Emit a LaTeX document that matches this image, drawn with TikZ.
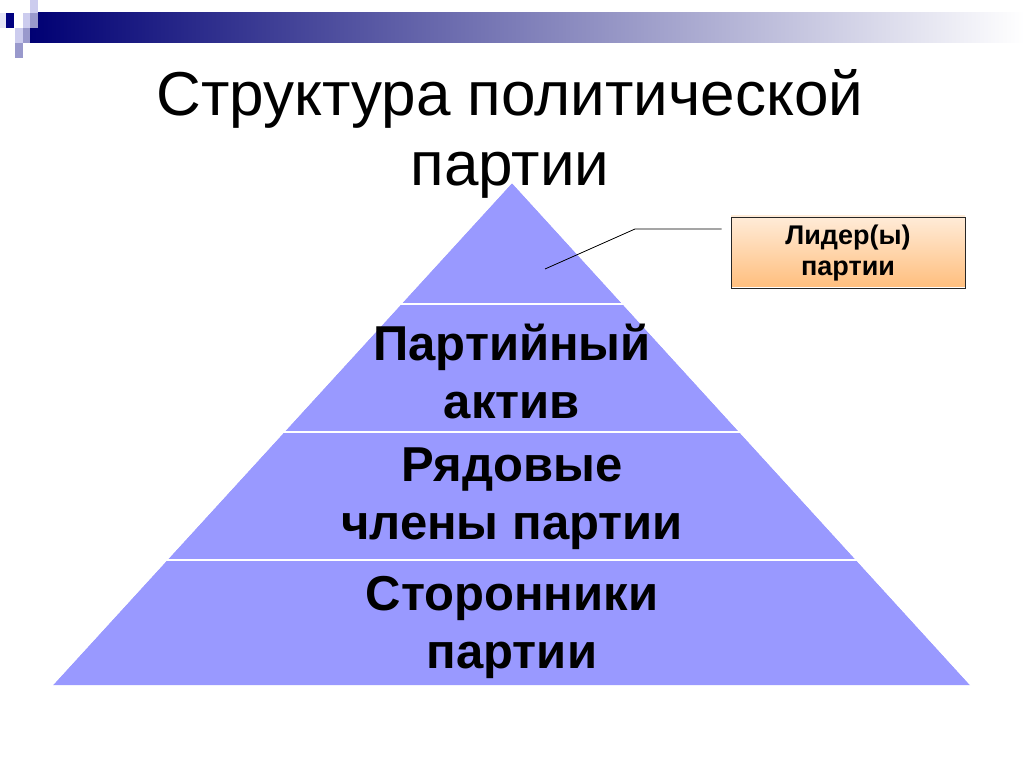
\documentclass[tikz,border=0pt]{standalone}
\usepackage{fontspec}
\setmainfont{Liberation Sans}
\begin{document}
\begin{tikzpicture}[x=1pt,y=-1pt,
  bt/.style={font=\fontsize{49}{58}\selectfont\bfseries,align=center,inner sep=0},
  tt/.style={font=\fontsize{62}{70}\selectfont,inner sep=0}]
\definecolor{pyr}{HTML}{9999FF}
\definecolor{navy}{HTML}{000080}
\definecolor{lt}{HTML}{CCCCEE}
\definecolor{md}{HTML}{9999CC}
\useasboundingbox (0,0) rectangle (1024,767);
\fill[white] (0,0) rectangle (1024,767);
% header
\shade[left color=navy!90!black,right color=white] (30,13) rectangle (1024,43);
\fill[navy] (6,13) rectangle (14,28);
\fill[lt!50] (0,13) rectangle (6,28);
\fill[lt] (30,0) rectangle (38,13);
\fill[lt] (23,13) rectangle (30,28);
\fill[md] (30,13) rectangle (38,28);
\fill[lt] (15,28) rectangle (23,43);
\fill[md] (23,28) rectangle (30,43);
\fill[md] (15,43) rectangle (23,58);
% pyramid
\coordinate (A) at (512,183);
\coordinate (L) at (53,685);
\coordinate (R) at (970,685);
\path[fill=pyr] (A) -- (L) -- (R) -- cycle;
\foreach \y in {304,432,560}{
  \pgfmathsetmacro\dx{(\y-183)/502*459}
  \draw[white,line width=2.5pt] (512-\dx-5,\y) -- (512+\dx+5,\y);}
\fill[white] (A) -- (L) -- (40,685) -- (40,180) -- cycle;
\fill[white] (A) -- (R) -- (990,685) -- (990,180) -- cycle;
\node[bt] (b2) at (512,372) {Партийный\\актив};
\node[bt] (b3) at (512,499) {Рядовые\\члены партии};
\node[bt] (b4) at (512,627) {Сторонники\\партии};
% title
\node[tt] (t1) at (510,99) {Структура политической};
\node[tt] (t2) at (510,175) {партии};
% leader
\shade[top color=orange!15,bottom color=orange!50] (731,216) rectangle (965,286);
\node[draw=black!85,line width=1pt,minimum width=234,minimum height=70,inner sep=0,
  font=\fontsize{27}{31}\selectfont\bfseries,align=center] (lead) at (848,253) {Лидер(ы)\\партии};
\coordinate (p) at (545,269);
\coordinate (k) at (635,229);
\draw[black,line width=0.8pt] (p) -- (k) -- ([xshift=-9pt]lead.west|-k);
\end{tikzpicture}
\end{document}
